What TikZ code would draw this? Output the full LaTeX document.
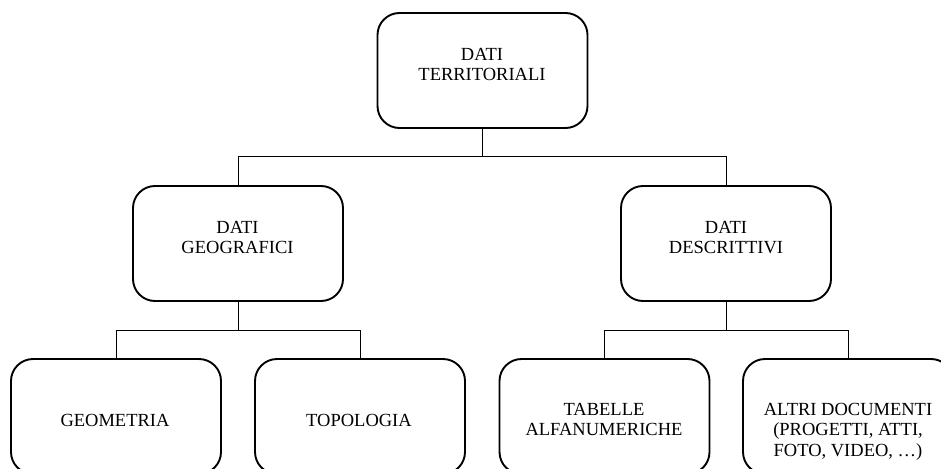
\documentclass[tikz,border=0pt]{standalone}
\usepackage{fontspec}
\setmainfont{Liberation Serif}
\begin{document}
\begin{tikzpicture}[x=1pt,y=-1pt,
  box/.style={draw=black,line width=1.9pt,rounded corners=22pt,minimum width=210pt,minimum height=115pt,inner sep=0pt},
  lbl/.style={anchor=north,inner sep=0pt,align=center,font=\fontsize{18.5}{20.5}\selectfont},
  wire/.style={draw=black,line width=0.9pt}]
\useasboundingbox (0,0) rectangle (941,468);
\clip (0,0) rectangle (941,468);
% boxes
\node[box] (top)  at (482.5,70.5) {};
\node[box] (geo)  at (238,243.5) {};
\node[box] (desc) at (726,243.5) {};
\node[box] (geom) at (116,416.5) {};
\node[box] (topo) at (360,416.5) {};
\node[box] (tab)  at (604.5,416.5) {};
\node[box] (altri) at (848,416.5) {};
% labels
\node[lbl] (ttop)  at (482,48) {DATI\\TERRITORIALI};
\node[lbl] (tgeo)  at (237.5,221) {DATI\\GEOGRAFICI};
\node[lbl] (tdesc) at (726,221) {DATI\\DESCRITTIVI};
\node[lbl] (tgeom) at (115,414) {GEOMETRIA};
\node[lbl] (ttopo) at (359,414) {TOPOLOGIA};
\node[lbl] (ttab)  at (604,403) {TABELLE\\ALFANUMERICHE};
\node[lbl] (taltri) at (848,403) {ALTRI DOCUMENTI\\(PROGETTI, ATTI,\\FOTO, VIDEO, …)};
% junctions
\coordinate (j1) at (482.5,156);
\coordinate (j2) at (238,330);
\coordinate (j3) at (726,330);
% connectors
\draw[wire] (top.south) -- (j1);
\draw[wire] (geo.north) |- (j1);
\draw[wire] (desc.north) |- (j1);
\draw[wire] (geo.south) -- (j2);
\draw[wire] (geom.north) |- (j2);
\draw[wire] (topo.north) |- (j2);
\draw[wire] (desc.south) -- (j3);
\draw[wire] (tab.north) |- (j3);
\draw[wire] (altri.north) |- (j3);
\end{tikzpicture}
\end{document}
